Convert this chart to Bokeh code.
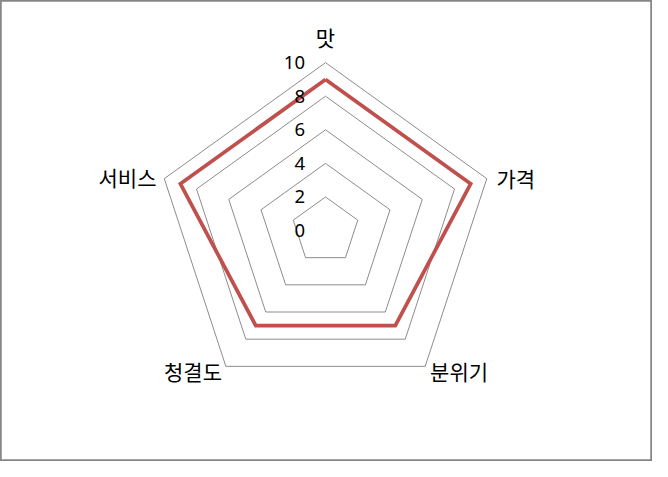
import math
from bokeh.plotting import figure
from bokeh.models import Range1d, ColumnDataSource
from bokeh.core.properties import value, field
from bokeh.embed import file_html
from bokeh.resources import INLINE

# ---- data ----
categories = ["맛", "가격", "분위기", "청결도", "서비스"]
scores = [9, 9, 7, 7, 9]
ring_levels = [2, 4, 6, 8, 10]
tick_values = [0, 2, 4, 6, 8, 10]
tick_labels = ["0", "2", "4", "6", "8", "10"]

# ---- layout (reference-pixel based, scaled to the figure) ----
W, H = 652, 461
REF_W, REF_H = 668, 477
REF_CX, REF_CY = 333, 238    # chart centre in reference pixels
REF_UNIT = 17.37             # reference pixels per score unit
FONT = "Noto Sans CJK KR"
# label pixel offsets from the outer vertex (dx right, dy down) and alignment
label_offsets = [(0, -27), (10, -1), (5, 4.5), (-4, 4.5), (-8, -2)]
label_aligns = ["center", "left", "left", "right", "right"]
SX = W / REF_W

n = len(categories)


def polar(r, i):
    t = math.pi / 2 - 2 * math.pi * i / n
    return r * math.cos(t), r * math.sin(t)


p = figure(width=W, height=H, output_backend="svg", toolbar_location=None,
           x_range=Range1d(-REF_CX / REF_UNIT, (REF_W - REF_CX) / REF_UNIT),
           y_range=Range1d(-(REF_H - REF_CY) / REF_UNIT, REF_CY / REF_UNIT),
           min_border=0, tools="")
p.xaxis.visible = False
p.yaxis.visible = False
p.xgrid.visible = False
p.ygrid.visible = False
p.outline_line_color = "#868686"
p.outline_line_width = 2.5
p.background_fill_color = "white"
p.border_fill_color = "white"

# rings
rx, ry = [], []
for lv in ring_levels:
    pts = [polar(lv, i) for i in range(n)] + [polar(lv, 0)]
    rx.append([q[0] for q in pts])
    ry.append([q[1] for q in pts])
p.multi_line(rx, ry, line_color="#8c8c8c", line_width=1)

# series
sp = [polar(scores[i], i) for i in range(n)] + [polar(scores[0], 0)]
p.line([q[0] for q in sp], [q[1] for q in sp], line_color="#C0504D",
       line_width=3.75, line_join="miter")

# tick labels
tsrc = ColumnDataSource(dict(x=[0] * len(tick_values), y=tick_values,
                             t=tick_labels))
p.text(x="x", y="y", text="t", source=tsrc, x_offset=-21 * SX,
       text_align="right", text_baseline="middle",
       text_font=value("Noto Sans"), text_font_size="18.5px",
       text_color="black")

# category labels
lx, ly = [], []
for i in range(n):
    vx, vy = polar(10, i)
    dx, dy = label_offsets[i]
    lx.append(vx + dx / REF_UNIT)
    ly.append(vy - dy / REF_UNIT)
csrc = ColumnDataSource(dict(x=lx, y=ly, t=categories, a=label_aligns))
p.text(x="x", y="y", text="t", source=csrc, text_align=field("a"),
       text_baseline="middle", text_font=value(FONT),
       text_font_size="21px", text_color="black")

open("out.html", "w").write(file_html(p, INLINE))
